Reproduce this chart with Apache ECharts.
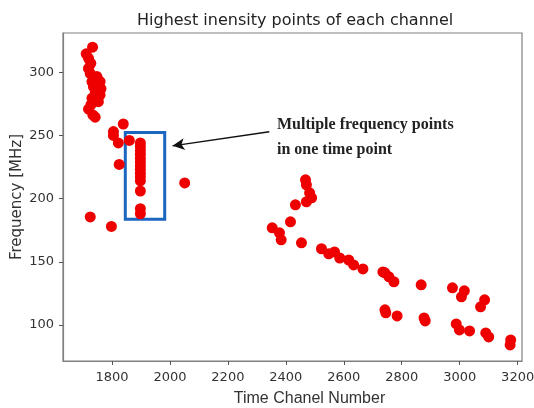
<!DOCTYPE html>
<html>
<head>
<meta charset="utf-8">
<script src="https://cdn.jsdelivr.net/npm/echarts@6/dist/echarts.min.js"></script>
<style>html,body{margin:0;padding:0;background:#fff}#c{width:534px;height:408px}</style>
</head>
<body>
<div id="c"></div>
<script>
// ---- data ----
var timeChannel = [
  1733,1711,1719,1727,1719,1725,1748,1731,1759,1736,1762,1742,1759,1731,1753,1727,1719,1734,1742,1738,
  1839,1805,1805,1822,1860,1825,1725,1798,2051,
  1898,1898,1898,1898,1898,1898,1898,1898,1898,1898,1898,1898,1898,1898,
  2468,2471,2482,2489,2471,2433,2416,2353,2378,2384,2454,2523,2548,2568,2586,2617,2634,2666,2735,
  2742,2756,2773,2867,2975,3016,3006,3086,3072,2742,2745,2784,2877,2881,2988,2999,3034,3090,3100,3176,3174
];
var frequency = [
  319.8,314.5,311,307,303,299,296.5,292.6,292.6,288.6,287,283.4,282,279.4,276.7,274,270.7,266.2,264.4,296,
  259,253,250,244,246,227,185.5,178,212.4,
  244,241,238,235,232,229,226,223,220,217,214,206,192,188,
  214.8,210.9,204.6,200.6,197.5,195.1,181.6,176.9,172.9,167.4,165,160.3,156.3,157.8,153,151.4,147.5,144.3,142,
  141.3,138.1,134.2,131.8,129.4,127,122.3,119.9,114.4,112,109.6,107.2,105.6,103.2,100.8,96.1,95.3,93.7,90.5,88.2,84.2
];
var xTicks = [1800,2000,2200,2400,2600,2800,3000,3200];
var yTicks = [100,150,200,250,300];
var titleText = 'Highest inensity points of each channel';
var xName = 'Time Chanel Number';
var yName = 'Frequency [MHz]';
var boxCorners = [[1846,252.2],[1982,183.7]];
var arrowFrom = [2343,252.8];
var arrowTo = [2009,241.7];
var noteLines = ['Multiple frequency points','in one time point'];

var points = timeChannel.map(function(x,i){return [x,frequency[i]];});
var chart = echarts.init(document.getElementById('c'), null, {renderer:'canvas'});
var font = 'DejaVu Sans';
function plain(v){return String(v);}
chart.setOption({
  animation:false,
  backgroundColor:'#fff',
  title:{text:titleText,left:132,top:8,
    textStyle:{fontFamily:font,fontSize:16,fontWeight:'normal',color:'#222'}},
  grid:{left:63,right:12,top:33,bottom:47,outerBoundsMode:'none',containLabel:false,
    show:true,borderColor:'#808080',borderWidth:1.2,backgroundColor:'transparent'},
  xAxis:{type:'value',min:1631,max:3215,
    name:xName,nameLocation:'middle',nameGap:30,nameMoveOverlap:false,
    nameTextStyle:{fontFamily:'Liberation Sans',fontSize:16,color:'#333',padding:[0,0,0,34]},
    axisLine:{show:true,lineStyle:{color:'#808080',width:1.2}},
    axisTick:{show:true,length:4,customValues:xTicks,lineStyle:{color:'#555'}},
    axisLabel:{customValues:xTicks,formatter:plain,fontFamily:font,fontSize:13,color:'#333',margin:10},
    splitLine:{show:false}},
  yAxis:{type:'value',min:71.5,max:331,
    name:yName,nameLocation:'middle',nameGap:38,nameMoveOverlap:false,
    nameTextStyle:{fontFamily:font,fontSize:15,color:'#333'},
    axisLine:{show:true,lineStyle:{color:'#808080',width:1.2}},
    axisTick:{show:true,length:4,customValues:yTicks,lineStyle:{color:'#555'}},
    axisLabel:{customValues:yTicks,formatter:plain,fontFamily:font,fontSize:13,color:'#333',margin:9},
    splitLine:{show:false}},
  series:[{
    type:'scatter',data:points,symbolSize:11,
    itemStyle:{color:'#ee0000',opacity:1},
    markArea:{silent:true,
      itemStyle:{color:'rgba(0,0,0,0)',borderColor:'#1a66c0',borderWidth:3},
      data:[[{coord:boxCorners[0]},{coord:boxCorners[1]}]]},
    markLine:{silent:true,symbol:['none','arrow'],symbolSize:[9,12],
      lineStyle:{color:'#111',width:1.5,type:'solid'},label:{show:false},
      data:[[{coord:arrowFrom},{coord:arrowTo}]]}
  }],
  graphic:[{type:'text',left:277,top:112,
    style:{text:noteLines.join('\n'),font:'bold 16px "Liberation Serif"',fill:'#222',lineHeight:25}}]
});
</script>
</body>
</html>
